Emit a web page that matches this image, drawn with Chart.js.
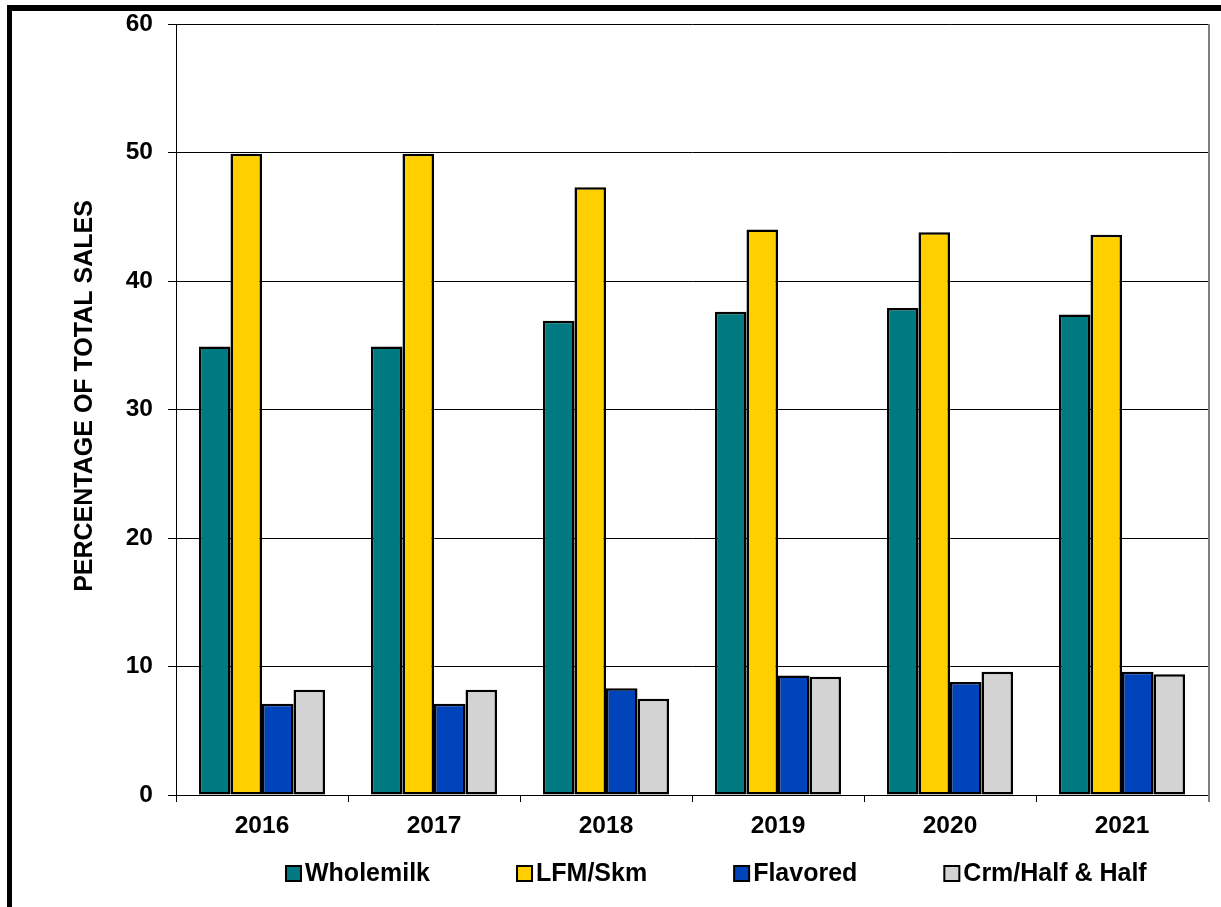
<!DOCTYPE html>
<html>
<head>
<meta charset="utf-8">
<script src="https://cdn.jsdelivr.net/npm/chart.js@4/dist/chart.umd.min.js"></script>
<style>
  html, body { margin: 0; padding: 0; background: #fff; }
  #wrap { position: relative; width: 1221px; height: 907px; }
  canvas { display: block; }
</style>
</head>
<body>
<div id="wrap"><canvas id="c" width="1221" height="907"></canvas></div>
<script>
const categories = ['2016', '2017', '2018', '2019', '2020', '2021'];
const seriesNames = ['Wholemilk', 'LFM/Skm', 'Flavored', 'Crm/Half & Half'];
const wholemilk = [34.9, 34.9, 36.9, 37.6, 37.9, 37.4];
const lfmSkm    = [49.9, 49.9, 47.3, 44.0, 43.8, 43.6];
const flavored  = [7.1, 7.1, 8.3, 9.3, 8.8, 9.6];
const crmHalf   = [8.2, 8.2, 7.5, 9.2, 9.6, 9.4];
const yTicks = [0, 10, 20, 30, 40, 50, 60];
const yTitle = 'PERCENTAGE OF TOTAL SALES';

const colors = ['#007A80', '#FFCF00', '#0044BB', '#D3D3D3'];
const FONT = "'Liberation Sans', Arial, Helvetica, sans-serif";

const decorPlugin = {
  id: 'decor',
  beforeDraw(chart) {
    const ctx = chart.ctx;
    ctx.save();
    ctx.fillStyle = '#fff';
    ctx.fillRect(0, 0, chart.width, chart.height);
    ctx.restore();
  },
  afterDraw(chart) {
    const ctx = chart.ctx;
    const a = chart.chartArea;
    ctx.save();
    // outer frame (top and left visible)
    ctx.fillStyle = '#000';
    ctx.fillRect(7, 5, chart.width - 7, 6);
    ctx.fillRect(7, 5, 5, chart.height - 5);
    // right plot border
    ctx.strokeStyle = '#808080';
    ctx.lineWidth = 2;
    ctx.beginPath();
    ctx.moveTo(a.right + 1, a.top);
    ctx.lineTo(a.right + 1, a.bottom + 7);
    ctx.stroke();
    // y title
    ctx.fillStyle = '#000';
    ctx.font = 'bold 25px ' + FONT;
    ctx.textAlign = 'center';
    ctx.textBaseline = 'middle';
    ctx.translate(85, 396);
    ctx.rotate(-Math.PI / 2);
    ctx.fillText(yTitle, 0, 0);
    ctx.restore();

    // legend
    ctx.save();
    ctx.font = 'bold 25px ' + FONT;
    ctx.textBaseline = 'middle';
    ctx.textAlign = 'left';
    let x = 285;
    const cy = 873;
    chart.data.datasets.forEach((ds, i) => {
      ctx.fillStyle = ds.backgroundColor;
      ctx.fillRect(x + 1, cy - 7, 15, 15);
      ctx.strokeStyle = '#000';
      ctx.lineWidth = 2;
      ctx.strokeRect(x + 1, cy - 7, 15, 15);
      ctx.fillStyle = '#000';
      ctx.fillText(ds.label, x + 20, cy + 1);
      const w = ctx.measureText(ds.label).width;
      x = x + 20 + w + 86;
    });
    ctx.restore();
  }
};

const ds = [wholemilk, lfmSkm, flavored, crmHalf].map((d, i) => ({
  label: seriesNames[i],
  data: d,
  backgroundColor: colors[i],
  borderColor: '#000',
  borderWidth: 2.5,
  borderSkipped: false,
  categoryPercentage: 0.733,
  barPercentage: 1.0
}));

new Chart(document.getElementById('c'), {
  type: 'bar',
  data: { labels: categories, datasets: ds },
  plugins: [decorPlugin],
  options: {
    responsive: false,
    animation: false,
    events: [],
    layout: { padding: { left: 0, right: 13, top: 24, bottom: 62 } },
    plugins: {
      legend: { display: false },
      tooltip: { enabled: false },
      title: { display: false }
    },
    scales: {
      x: {
        grid: { display: true, offset: true, drawOnChartArea: false, drawTicks: true, tickLength: 7, color: '#000', lineWidth: 1 },
        border: { display: true, color: '#000', width: 1 },
        ticks: { color: '#000', font: { family: FONT, size: 24.5, weight: 'bold' }, padding: 10, maxRotation: 0 },
        afterFit(scale) { scale.height = 50; scale.paddingLeft = 0; scale.paddingRight = 0; }
      },
      y: {
        min: 0,
        max: 60,
        afterBuildTicks(scale) { scale.ticks = yTicks.map(v => ({ value: v })); },
        grid: { color: '#000', lineWidth: 1, drawTicks: true, tickLength: 8 },
        border: { display: true, color: '#000', width: 1 },
        ticks: { color: '#000', font: { family: FONT, size: 24.5, weight: 'bold' }, padding: 15 },
        title: { display: false },
        afterFit(scale) { scale.width = 176; scale.paddingTop = 0; scale.paddingBottom = 0; }
      }
    }
  }
});
</script>
</body>
</html>
